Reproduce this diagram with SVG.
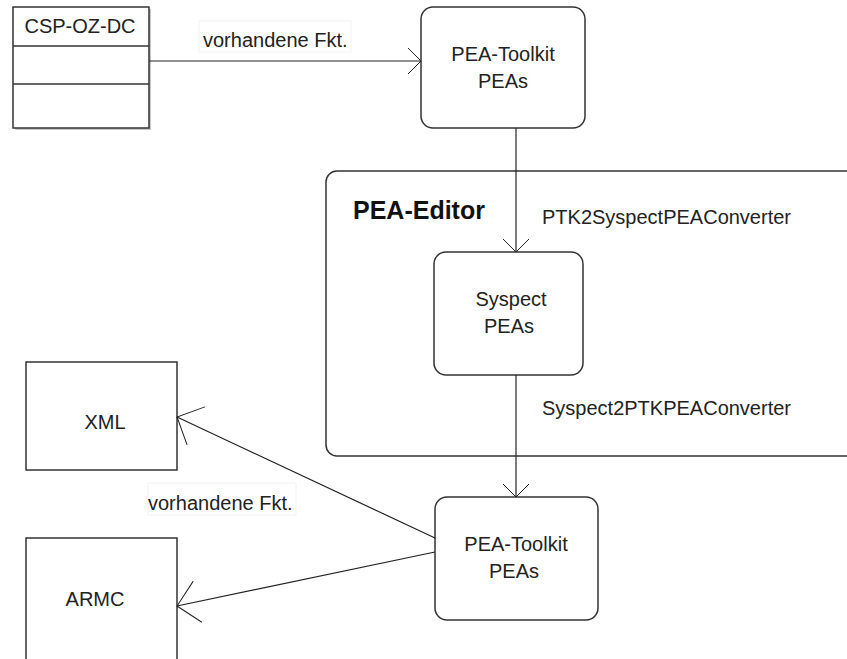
<svg xmlns="http://www.w3.org/2000/svg" width="847" height="659" viewBox="0 0 847 659">
<style>
.box{fill:#fff;stroke:#333;stroke-width:1.5}
.t{font-family:"Liberation Sans",Arial,sans-serif;font-size:20px;fill:#222}
.c{text-anchor:middle}
.b{font-weight:bold;font-size:25px;fill:#111}
.ln{fill:none;stroke:#222;stroke-width:1.2}
.lbl{fill:#fff;stroke:#f2f2f2;stroke-width:1}
</style>
<defs>
<marker id="arr" markerUnits="userSpaceOnUse" viewBox="-15 -15 17 30" refX="0" refY="0" markerWidth="17" markerHeight="30" orient="auto" overflow="visible">
<path d="M-13,-13 L0,0 L-13,13" fill="none" stroke="#222" stroke-width="1"/>
</marker>
<marker id="arrL" markerUnits="userSpaceOnUse" viewBox="-23 -23 25 46" refX="0" refY="0" markerWidth="25" markerHeight="46" orient="auto" overflow="visible">
<path d="M-21,-21 L0,0 L-21,21" fill="none" stroke="#222" stroke-width="1"/>
</marker>
</defs>
<rect width="847" height="659" fill="#fff"/>

<g id="pea-editor">
<rect class="box" x="326" y="171" width="560" height="285" rx="11"/>
<text class="t b" x="353" y="219">PEA-Editor</text>
</g>

<g id="csp-oz-dc">
<rect x="15" y="9" width="136" height="121" fill="#c8c8c8"/>
<rect class="box" x="13" y="7" width="136" height="121"/>
<line x1="13" y1="46" x2="149" y2="46" stroke="#333" stroke-width="1.5"/>
<line x1="13" y1="84" x2="149" y2="84" stroke="#333" stroke-width="1.5"/>
<text class="t c" x="80" y="33">CSP-OZ-DC</text>
</g>

<g id="toolkit-top">
<rect class="box" x="421" y="7" width="164" height="121" rx="12"/>
<text class="t c" x="503" y="61">PEA-Toolkit</text>
<text class="t c" x="503" y="88">PEAs</text>
</g>

<g id="syspect">
<rect class="box" x="434" y="252" width="149" height="123" rx="12"/>
<text class="t c" x="511" y="306">Syspect</text>
<text class="t c" x="509" y="333">PEAs</text>
</g>

<g id="toolkit-bottom">
<rect class="box" x="435" y="497" width="163" height="123" rx="12"/>
<text class="t c" x="516" y="551">PEA-Toolkit</text>
<text class="t c" x="514" y="578">PEAs</text>
</g>

<g id="xml">
<rect class="box" x="26" y="362" width="151" height="108"/>
<text class="t c" x="105" y="429">XML</text>
</g>

<g id="armc">
<rect class="box" x="26" y="538" width="151" height="140"/>
<text class="t c" x="95" y="606">ARMC</text>
</g>

<g id="connectors">
<line class="ln" x1="149" y1="61" x2="421" y2="61" marker-end="url(#arr)"/>
<rect class="lbl" x="199" y="21" width="152" height="31"/>
<text class="t" x="203" y="47">vorhandene Fkt.</text>

<line class="ln" x1="516" y1="128" x2="516" y2="252" marker-end="url(#arr)"/>
<text class="t" x="542" y="224">PTK2SyspectPEAConverter</text>

<line class="ln" x1="516" y1="375" x2="516" y2="497" marker-end="url(#arr)"/>
<text class="t" x="542" y="415">Syspect2PTKPEAConverter</text>

<line class="ln" x1="435" y1="538" x2="177" y2="417" marker-end="url(#arrL)"/>
<line class="ln" x1="435" y1="552" x2="177" y2="606" marker-end="url(#arrL)"/>
<rect class="lbl" x="148" y="483" width="148" height="32"/>
<text class="t" x="148" y="510">vorhandene Fkt.</text>
</g>
</svg>
